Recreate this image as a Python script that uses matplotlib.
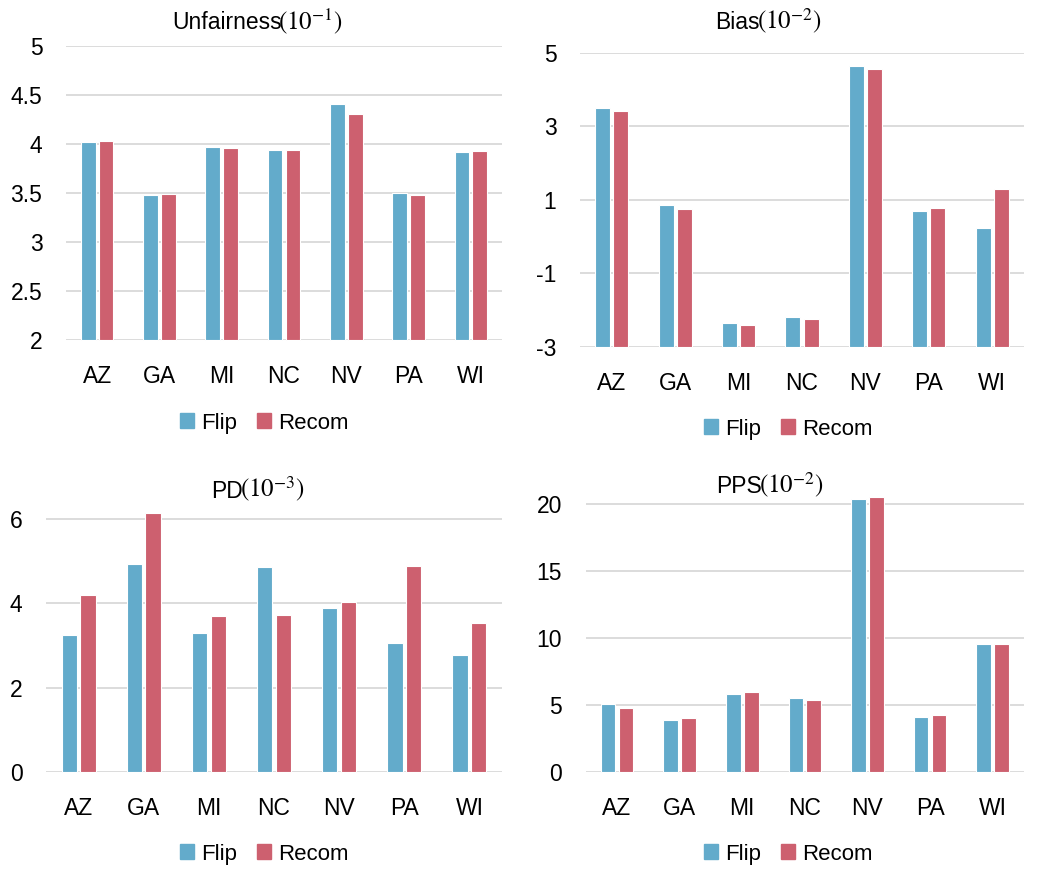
import numpy as np
import matplotlib
matplotlib.use("Agg")
import matplotlib.pyplot as plt
from matplotlib.patches import Patch

plt.rcParams['font.family'] = ['Liberation Sans', 'DejaVu Sans']
plt.rcParams['mathtext.fontset'] = 'stix'
plt.rcParams['axes.unicode_minus'] = False

states = ['AZ', 'GA', 'MI', 'NC', 'NV', 'PA', 'WI']

unfair_flip = [4.02, 3.48, 3.97, 3.94, 4.41, 3.50, 3.92]
unfair_recom = [4.03, 3.49, 3.96, 3.94, 4.30, 3.48, 3.93]

bias_flip = [3.50, 0.85, -2.36, -2.18, 4.63, 0.71, 0.24]
bias_recom = [3.41, 0.75, -2.40, -2.23, 4.57, 0.78, 1.29]

pd_flip = [3.26, 4.93, 3.30, 4.86, 3.90, 3.05, 2.77]
pd_recom = [4.19, 6.15, 3.70, 3.72, 4.03, 4.88, 3.53]

pps_flip = [5.05, 3.86, 5.82, 5.47, 20.37, 4.08, 9.55]
pps_recom = [4.78, 4.03, 5.92, 5.32, 20.47, 4.20, 9.55]

BLUE = '#63ABCB'
RED = '#CD606F'
GRID = '#D9D9D9'
W, H = 1047, 880

fig = plt.figure(figsize=(W / 100, H / 100), dpi=100)
renderer = fig.canvas.get_renderer()


def px_axes(x0, x1, ytop, ybot):
    # pixel box -> figure fraction
    return fig.add_axes([x0 / W, 1 - ybot / H, (x1 - x0) / W, (ybot - ytop) / H])


def title_text(name, power, cx, base_y):
    # sans word followed by a serif math part, centred on cx (pixels)
    t1 = fig.text(0, 1 - base_y / H, name, ha='left', va='baseline', fontsize=16.5)
    t2 = fig.text(0, 1 - base_y / H, r'$(10^{-%d})$' % power, ha='left',
                  va='baseline', fontsize=18)
    w1 = t1.get_window_extent(renderer).width
    w2 = t2.get_window_extent(renderer).width
    left = cx - (w1 + w2) / 2
    t1.set_x(left / W)
    t2.set_x((left + w1 - 3) / W)


def panel(x0, x1, ytop, ybot, ylim, ticks, labels, flip, recom, base,
          name, power, tx, ty, lx, ly):
    ax = px_axes(x0, x1, ytop, ybot)
    x = np.arange(len(states))
    flip = np.array(flip)
    recom = np.array(recom)
    ax.bar(x - 0.143, flip - base, 0.235, bottom=base, color=BLUE,
           edgecolor='white', linewidth=0.8, zorder=3, clip_on=False)
    ax.bar(x + 0.143, recom - base, 0.235, bottom=base, color=RED,
           edgecolor='white', linewidth=0.8, zorder=3, clip_on=False)
    ax.set_xlim(-0.5, 6.5)
    ax.set_ylim(*ylim)
    ax.set_yticks(ticks)
    ax.set_yticklabels(labels)
    ax.set_xticks(x)
    ax.set_xticklabels(states)
    for t in ticks:
        ax.axhline(t, color=GRID, linewidth=1.3, zorder=1)
    for s in ax.spines.values():
        s.set_visible(False)
    ax.tick_params(axis='both', length=0, labelsize=16.5, colors='black')
    ax.tick_params(axis='y', pad=17)
    ax.tick_params(axis='x', pad=18)
    title_text(name, power, tx, ty)
    handles = [Patch(color=BLUE, label='Flip'), Patch(color=RED, label='Recom')]
    fig.legend(handles=handles, loc='center', bbox_to_anchor=(lx / W, 1 - ly / H),
               ncol=2, frameon=False, fontsize=16, handlelength=0.65,
               handleheight=0.65, handletextpad=0.3, columnspacing=0.9)
    return ax


panel(66, 502, 45.7, 340.3, (2, 5), [2, 2.5, 3, 3.5, 4, 4.5, 5],
      ['2', '2.5', '3', '3.5', '4', '4.5', '5'], unfair_flip, unfair_recom, 2,
      'Unfairness', 1, 259, 29, 264, 423)

panel(580, 1024, 52.7, 347, (-3, 5), [-3, -1, 1, 3, 5],
      ['-3', '-1', '1', '3', '5'], bias_flip, bias_recom, -3,
      'Bias', 2, 770, 29, 788, 429)

unit_pd = (771.7 - 519.3) / 6
panel(46, 502, 519.3 - 0.3 * unit_pd, 771.7, (0, 6.3), [0, 2, 4, 6],
      ['0', '2', '4', '6'], pd_flip, pd_recom, 0,
      'PD', 3, 259, 497.5, 264, 854)

unit_pps = (771.7 - 503.7) / 20
panel(585.7, 1024, 503.7 - 1.0 * unit_pps, 771.7, (0, 21), [0, 5, 10, 15, 20],
      ['0', '5', '10', '15', '20'], pps_flip, pps_recom, 0,
      'PPS', 2, 771, 493, 788, 854)

fig.savefig('out.png', dpi=100)
